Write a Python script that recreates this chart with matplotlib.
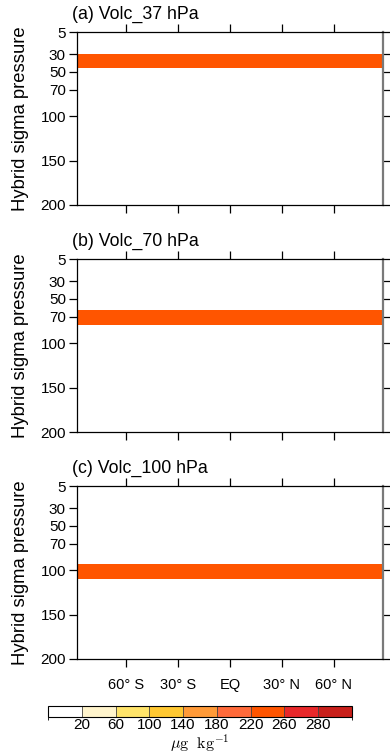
import numpy as np
import matplotlib
matplotlib.use("Agg")
import matplotlib.pyplot as plt
from matplotlib.colors import ListedColormap, BoundaryNorm

plt.rcParams['font.family'] = ['Liberation Sans', 'DejaVu Sans']
plt.rcParams['mathtext.fontset'] = 'cm'

# ---- data ----
titles = ["(a) Volc_37 hPa", "(b) Volc_70 hPa", "(c) Volc_100 hPa"]
lat_edges = [-88.3, 88.3]
lev_edges = [5, 30, 46, 62, 79, 93, 110, 200]
conc_a = [0, 240, 0, 0, 0, 0, 0]
conc_b = [0, 0, 0, 240, 0, 0, 0]
conc_c = [0, 0, 0, 0, 0, 240, 0]
panels = [conc_a, conc_b, conc_c]

yticks = [5, 30, 50, 70, 100, 150, 200]
xticks = [-60, -30, 0, 30, 60]
xticklabels = ["60\u00b0 S", "30\u00b0 S", "EQ", "30\u00b0 N", "60\u00b0 N"]

cbar_levels = [0, 20, 60, 100, 140, 180, 220, 260, 280, 300]
cbar_ticks = [20, 60, 100, 140, 180, 220, 260, 280]
colors = ["#FFFFFF", "#FFF4CC", "#FFE46A", "#FFC832", "#FF9A38",
          "#FF6A3A", "#FF5500", "#E8282A", "#C81F1A"]

cmap = ListedColormap(colors)
norm = BoundaryNorm(cbar_levels, cmap.N)

W, H = 390, 755
fig = plt.figure(figsize=(W / 100, H / 100), dpi=100)

left = 77 / W
width = 306 / W
tops = [32, 259, 486]
ph = 173

mesh = None
for title, conc, top in zip(titles, panels, tops):
    ax = fig.add_axes([left, (H - top - ph) / H, width, ph / H])
    Z = np.array(conc, dtype=float).reshape(-1, 1)
    mesh = ax.pcolormesh(lat_edges, lev_edges, Z, cmap=cmap, norm=norm,
                         shading='flat', edgecolor='none')
    ax.set_xlim(lat_edges[0], lat_edges[-1])
    ax.set_ylim(200, 5)
    ax.set_yticks(yticks)
    ax.set_yticklabels([str(v) for v in yticks], fontsize=11)
    ax.set_xticks(xticks)
    if top == tops[-1]:
        ax.set_xticklabels(xticklabels, fontsize=10.5)
    else:
        ax.set_xticklabels([])
    ax.tick_params(axis='both', direction='out', length=6, width=0.9,
                   top=True, right=True, pad=2)
    ax.tick_params(axis='x', pad=8)
    ax.set_ylabel("Hybrid sigma pressure", fontsize=13.3, labelpad=8)
    for s in ['left', 'bottom', 'top']:
        ax.spines[s].set_linewidth(0.9)
    ax.spines['right'].set_color('#7a7a7a')
    ax.spines['right'].set_linewidth(1.6)
    ax.text(-0.017, 1.05, title, transform=ax.transAxes, fontsize=12.8,
            ha='left', va='bottom')

cax = fig.add_axes([48 / W, (H - 717) / H, 304 / W, 11.5 / H])
cb = fig.colorbar(mesh, cax=cax, orientation='horizontal',
                  ticks=cbar_ticks, spacing='uniform', drawedges=True)
cb.ax.tick_params(length=0, labelsize=11, pad=1)
cb.outline.set_linewidth(0.8)
cb.dividers.set_color('#444444')
cb.dividers.set_linewidth(0.6)
fig.text(200 / W, 1 / H, r'$\mu\mathrm{g}\ \ \mathrm{kg}^{-1}$',
         ha='center', va='bottom', fontsize=11.5)

fig.savefig("out.png", dpi=100)
